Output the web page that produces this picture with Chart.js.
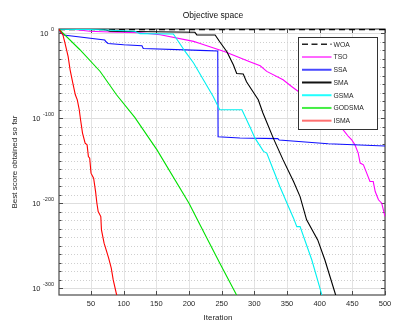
<!DOCTYPE html>
<html>
<head>
<meta charset="utf-8">
<script src="https://cdn.jsdelivr.net/npm/chart.js@4.4.1/dist/chart.umd.min.js"></script>
<style>
  html, body { margin: 0; padding: 0; background: #fff; }
  #wrap { width: 398px; height: 326px; }
</style>
</head>
<body>
<div id="wrap"><canvas id="myChart"></canvas></div>
<script>
// best score so far, stored as log10 values
const woaIter = [1, 500]
const woaLog = [4.4, 4.4]

const tsoIter = [1, 25, 48, 79, 125, 156, 207, 217, 255, 293, 309, 319, 344, 357, 370, 400, 436, 444, 449, 454, 459, 462, 467, 472, 477, 482, 485, 490, 495, 500]
const tsoLog = [4.8, 4.4, 2.4, 1.5, 0.6, -1.7, -9.6, -12, -21.7, -33.5, -38.2, -44.9, -54.7, -62.6, -70, -88, -113.6, -121.5, -125.4, -131.3, -141, -152.8, -154.8, -164.6, -174.5, -174.5, -186.3, -196, -200, -215.7]

const ssaIter = [1, 4, 8, 71, 73, 76, 100, 128, 130, 217, 244, 244.5, 278, 336, 338, 413, 500]
const ssaLog = [4.8, 0.6, -2, -8, -10, -12, -13.5, -14.7, -17.9, -20.2, -20.9, -121.9, -123.2, -124, -125.7, -130, -132.6]

const smaIter = [1, 70, 79, 209, 212, 240, 247, 258, 268, 273, 283, 288, 298, 306, 313, 329, 344, 360, 370, 380, 397, 408, 424, 426]
const smaLog = [4.6, 4.4, 2.3, 1.1, -2, -2, -10, -21.7, -37.4, -47.3, -48, -57, -68.9, -78.3, -93.6, -123.4, -149, -174.5, -192.2, -219.6, -243.2, -266.8, -306.8, -312]

const gsmaIter = [1, 63, 117, 125, 176, 194, 207, 222, 237, 247, 281, 293, 301, 314, 319, 329, 339, 350, 360, 365, 370, 388, 403, 405]
const gsmaLog = [4.8, 4.2, 2.4, -0.5, -0.9, -21.4, -35, -54.7, -74.4, -90, -90, -109.7, -123.4, -139, -141, -160.7, -180.4, -200, -217.6, -227.5, -227.5, -266.8, -307, -312]

const godsmaIter = [1, 33, 64, 89, 117, 151, 200, 217, 247, 272, 275]
const godsmaLog = [4.8, -19.4, -45, -72.4, -99, -137.2, -200, -225.5, -270.3, -306.8, -312]

const ismaIter = [1, 7, 10, 15, 18, 22, 26, 29, 32, 34, 37, 41, 44, 46, 48, 50, 54, 57, 59, 61, 65, 66, 70, 74, 77, 81, 84, 89, 91]
const ismaLog = [4.8, -2, -11, -27.6, -43, -58, -72.4, -78.3, -90, -101.8, -117.5, -129.3, -131.3, -145.1, -147, -164.6, -170.5, -186.3, -200, -209.8, -215.7, -231.4, -247, -257, -264.7, -276.5, -290.3, -307.1, -312]

const xTickValues = [50, 100, 150, 200, 250, 300, 350, 400, 450, 500]
const yMajorTicks = [0, -100, -200, -300]

const seriesStyle = [
  { label: 'WOA', iter: woaIter, val: woaLog, color: '#000000', legendColor: '#222222', dash: [6, 4] },
  { label: 'TSO', iter: tsoIter, val: tsoLog, color: '#ff00ff', legendColor: '#ff66ff', dash: [] },
  { label: 'SSA', iter: ssaIter, val: ssaLog, color: '#1010ff', legendColor: '#4848ff', dash: [] },
  { label: 'SMA', iter: smaIter, val: smaLog, color: '#000000', legendColor: '#111111', dash: [] },
  { label: 'GSMA', iter: gsmaIter, val: gsmaLog, color: '#00f0f0', legendColor: '#22ffff', dash: [] },
  { label: 'GODSMA', iter: godsmaIter, val: godsmaLog, color: '#00e000', legendColor: '#44ee44', dash: [] },
  { label: 'ISMA', iter: ismaIter, val: ismaLog, color: '#ff0000', legendColor: '#ff7070', dash: [] }
]

const datasets = seriesStyle.map((s, i) => ({
  label: s.label,
  data: s.iter.map((x, k) => ({ x: x, y: s.val[k] })),
  borderColor: s.color,
  borderWidth: s.label === 'WOA' ? 1.4 : 1.1,
  borderDash: s.dash,
  pointRadius: 0,
  tension: 0,
  fill: false,
  order: seriesStyle.length - i
}))

const FONT = '"Liberation Sans", Arial, sans-serif'

const axesFrame = {
  id: 'axesFrame',
  beforeDatasetsDraw(chart) {
    const { ctx, chartArea: a, scales: { x, y } } = chart
    ctx.save()
    // grid
    ctx.lineWidth = 1
    ctx.strokeStyle = '#e3e3e3'
    xTickValues.forEach(v => {
      const px = Math.round(x.getPixelForValue(v)) + 0.5
      ctx.beginPath(); ctx.moveTo(px, a.top); ctx.lineTo(px, a.bottom); ctx.stroke()
    })
    for (let e = -300; e <= 0; e += 10) {
      const py = Math.round(y.getPixelForValue(e)) + 0.5
      if (yMajorTicks.includes(e)) {
        ctx.setLineDash([])
        ctx.strokeStyle = '#dedede'
      } else {
        ctx.setLineDash([1, 2])
        ctx.strokeStyle = '#cfcfcf'
      }
      ctx.beginPath(); ctx.moveTo(a.left, py); ctx.lineTo(a.right, py); ctx.stroke()
    }
    ctx.setLineDash([])
    // box
    ctx.strokeStyle = '#4a4a4a'
    ctx.lineWidth = 1.2
    ctx.strokeRect(a.left, a.top, a.right - a.left, a.bottom - a.top)
    // ticks
    ctx.lineWidth = 1
    xTickValues.forEach(v => {
      const px = Math.round(x.getPixelForValue(v)) + 0.5
      ctx.beginPath()
      ctx.moveTo(px, a.bottom); ctx.lineTo(px, a.bottom - 4)
      ctx.moveTo(px, a.top); ctx.lineTo(px, a.top + 4)
      ctx.stroke()
    })
    for (let e = -300; e <= 0; e += 10) {
      const py = Math.round(y.getPixelForValue(e)) + 0.5
      const len = yMajorTicks.includes(e) ? 4 : 2.5
      ctx.beginPath()
      ctx.moveTo(a.left, py); ctx.lineTo(a.left + len, py)
      ctx.moveTo(a.right, py); ctx.lineTo(a.right - len, py)
      ctx.stroke()
    }
    ctx.restore()
  },
  afterDraw(chart) {
    const { ctx, chartArea: a, scales: { y } } = chart
    ctx.save()
    ctx.fillStyle = '#262626'
    // y tick labels 10^n
    yMajorTicks.forEach(e => {
      const py = y.getPixelForValue(e)
      const sup = String(e)
      ctx.font = '5.5px ' + FONT
      ctx.textAlign = 'right'
      ctx.textBaseline = 'middle'
      const supW = ctx.measureText(sup).width
      ctx.fillText(sup, 54, py - 3.5)
      ctx.font = '7.5px ' + FONT
      ctx.fillText('10', 54 - supW - 2.5, py + 0.5)
    })
    // title and axis titles
    ctx.textAlign = 'center'
    ctx.textBaseline = 'middle'
    ctx.font = '8.5px ' + FONT
    ctx.fillStyle = '#111'
    ctx.fillText('Objective space', 213, 16)
    ctx.font = '8px ' + FONT
    ctx.fillStyle = '#262626'
    ctx.fillText('Iteration', 218, 318)
    ctx.save()
    ctx.translate(15, (a.top + a.bottom) / 2)
    ctx.rotate(-Math.PI / 2)
    ctx.fillText('Best score obtained so far', 0, 0)
    ctx.restore()
    // legend
    const bx = 298.5, by = 37.5, bw = 79, bh = 92
    ctx.fillStyle = '#fff'
    ctx.fillRect(bx, by, bw, bh)
    ctx.strokeStyle = '#333'
    ctx.lineWidth = 1
    ctx.strokeRect(bx, by, bw, bh)
    ctx.font = '6.8px ' + FONT
    ctx.textAlign = 'left'
    seriesStyle.forEach((s, i) => {
      const ry = 44.3 + i * 12.73
      ctx.strokeStyle = s.legendColor
      ctx.lineWidth = s.label === 'WOA' ? 1.5 : 2
      ctx.setLineDash(s.dash.length ? [6, 3.5] : [])
      ctx.beginPath(); ctx.moveTo(302, ry); ctx.lineTo(331.5, ry); ctx.stroke()
      ctx.setLineDash([])
      ctx.fillStyle = '#262626'
      ctx.fillText(s.label, 333.5, ry + 0.5)
    })
    ctx.restore()
  }
}

const ctx = document.getElementById('myChart')

const myChart = new Chart(ctx, {
  type: 'line',
  data: { datasets: datasets },
  options: {
    responsive: true,
    maintainAspectRatio: false,
    animation: false,
    devicePixelRatio: 1,
    layout: { padding: { left: 0, right: 13, top: 29, bottom: 0 } },
    plugins: {
      legend: { display: false },
      title: { display: false },
      tooltip: { enabled: false }
    },
    scales: {
      x: {
        type: 'linear',
        min: 1,
        max: 500,
        grid: { display: false, drawTicks: false },
        border: { display: false },
        afterBuildTicks: s => { s.ticks = xTickValues.map(v => ({ value: v })) },
        afterFit: s => { s.height = 31 },
        ticks: {
          autoSkip: false,
          maxRotation: 0,
          padding: 4,
          color: '#262626',
          font: { size: 7.5, family: FONT }
        }
      },
      y: {
        type: 'linear',
        min: -308,
        max: 5,
        grid: { display: false },
        border: { display: false },
        ticks: { display: false },
        afterFit: s => { s.width = 59 }
      }
    }
  },
  plugins: [axesFrame]
})
</script>
</body>
</html>
